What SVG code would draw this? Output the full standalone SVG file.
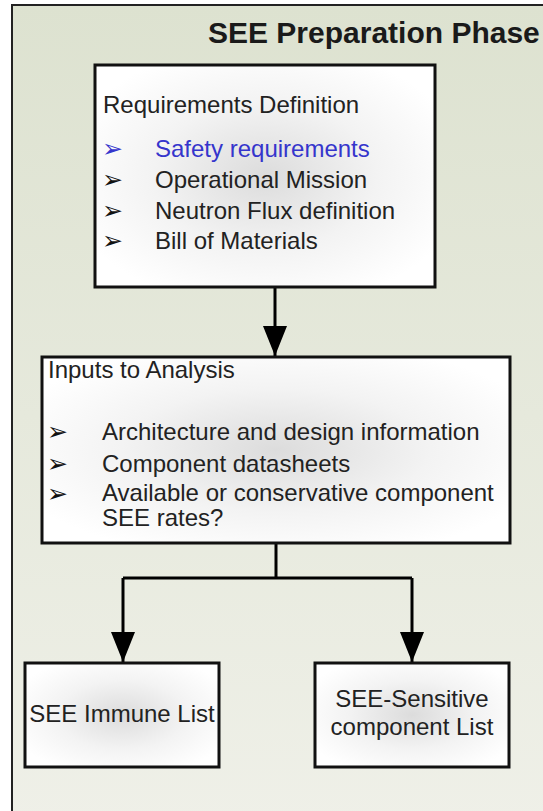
<svg xmlns="http://www.w3.org/2000/svg" width="543" height="811" viewBox="0 0 543 811">
  <defs>
    <linearGradient id="bg" x1="0" y1="0" x2="0" y2="1">
      <stop offset="0" stop-color="#dde2d0"/>
      <stop offset="1" stop-color="#eff0e8"/>
    </linearGradient>
    <radialGradient id="boxFill" cx="0.5" cy="0.5" r="0.6">
      <stop offset="0" stop-color="#dcdcdc"/>
      <stop offset="0.55" stop-color="#f3f3f3"/>
      <stop offset="1" stop-color="#ffffff"/>
    </radialGradient>
    <marker id="arrow" markerUnits="userSpaceOnUse" markerWidth="30" markerHeight="24" refX="30" refY="12" orient="auto" viewBox="0 0 30 24">
      <path d="M0,0 L30,12 L0,24 Z" fill="#000"/>
    </marker>
    <style>
      .box { fill: url(#boxFill); stroke: #111; stroke-width: 3; }
      .txt { font-family: "Liberation Sans", Arial, sans-serif; font-size: 24px; fill: #222; }
      .bul { font-family: "DejaVu Sans", sans-serif; font-size: 25px; fill: #111; }
      .title { font-family: "Liberation Sans", Arial, sans-serif; font-size: 30px; font-weight: bold; fill: #1a1a1a; }
      .conn { fill: none; stroke: #000; stroke-width: 3; }
      .blue { fill: #3535cc; }
    </style>
  </defs>

  <!-- panel background and frame -->
  <rect x="0" y="0" width="543" height="811" fill="#ffffff"/>
  <rect x="12" y="5" width="540" height="820" fill="url(#bg)" stroke="#222" stroke-width="2"/>
  <text class="title" x="208" y="43">SEE Preparation Phase</text>

  <g id="connectors">
    <line class="conn" x1="275" y1="287" x2="275" y2="356" marker-end="url(#arrow)"/>
    <polyline class="conn" points="276,543 276,578"/>
    <polyline class="conn" points="123,578 412,578"/>
    <line class="conn" x1="123" y1="578" x2="123" y2="662" marker-end="url(#arrow)"/>
    <line class="conn" x1="412" y1="578" x2="412" y2="662" marker-end="url(#arrow)"/>
  </g>

  <g id="requirements">
    <rect class="box" x="95" y="65" width="340" height="222"/>
    <text class="txt" x="103" y="113">Requirements Definition</text>
    <text class="bul blue" x="102" y="157">➢</text>
    <text class="txt blue" x="155" y="157">Safety requirements</text>
    <text class="bul" x="102" y="188">➢</text>
    <text class="txt" x="155" y="188">Operational Mission</text>
    <text class="bul" x="102" y="219">➢</text>
    <text class="txt" x="155" y="219">Neutron Flux definition</text>
    <text class="bul" x="102" y="249">➢</text>
    <text class="txt" x="155" y="249">Bill of Materials</text>
  </g>

  <g id="inputs">
    <rect class="box" x="42" y="357" width="468" height="186"/>
    <text class="txt" x="48" y="378">Inputs to Analysis</text>
    <text class="bul" x="47" y="440">➢</text>
    <text class="txt" x="102" y="440">Architecture and design information</text>
    <text class="bul" x="47" y="472">➢</text>
    <text class="txt" x="102" y="472">Component datasheets</text>
    <text class="bul" x="47" y="502">➢</text>
    <text class="txt" x="102" y="501">Available or conservative component</text>
    <text class="txt" x="102" y="526">SEE rates?</text>
  </g>

  <g id="immune">
    <rect class="box" x="25" y="663" width="194" height="104"/>
    <text class="txt" x="122" y="722" text-anchor="middle">SEE Immune List</text>
  </g>

  <g id="sensitive">
    <rect class="box" x="315" y="663" width="194" height="104"/>
    <text class="txt" x="412" y="707" text-anchor="middle">SEE-Sensitive</text>
    <text class="txt" x="412" y="735" text-anchor="middle">component List</text>
  </g>
</svg>
